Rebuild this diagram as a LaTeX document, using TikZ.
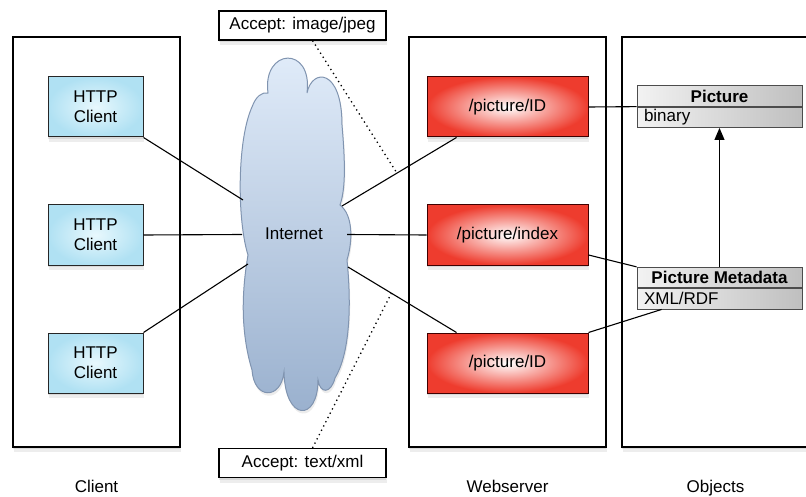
\documentclass[tikz,border=0pt]{standalone}
\usepackage{fontspec}
\setmainfont{Liberation Sans}
\usetikzlibrary{positioning,shadows,arrows.meta}

\definecolor{clientblue}{RGB}{176,225,243}
\definecolor{clientlight}{RGB}{232,248,253}
\definecolor{resred}{RGB}{238,60,46}
\definecolor{cloudtop}{RGB}{226,237,250}
\definecolor{cloudbot}{RGB}{152,175,205}
\definecolor{cloudline}{RGB}{128,148,176}

\begin{document}
\begin{tikzpicture}[x=1pt, y=-1pt, node distance=67pt,
   font=\fontsize{17}{20}\selectfont,
   softshadow/.style={drop shadow={shadow xshift=0pt, shadow yshift=-2pt, opacity=0.18},
      drop shadow={shadow xshift=1pt, shadow yshift=-5pt, opacity=0.14}},
   tier/.style={draw, line width=1.2pt, fill=white, softshadow},
   client/.style={draw=black!85, line width=1pt, inner color=clientlight, outer color=clientblue, minimum width=95pt, minimum height=60pt, align=center, softshadow},
   resource/.style={draw=black!75!red, line width=1pt, inner color=white, outer color=resred, minimum width=161pt, minimum height=60pt, softshadow},
   classhead/.style={draw=black!70, line width=0.8pt, left color=gray!10, right color=gray!50, minimum width=165pt, minimum height=20.5pt, inner sep=0pt, font=\fontsize{17}{20}\selectfont\bfseries},
   classattr/.style={draw=black!70, line width=0.8pt, left color=gray!10, right color=gray!50, text width=151pt, inner xsep=7pt, inner ysep=0pt, minimum height=20.5pt, align=left},
   callout/.style={draw, line width=1.1pt, fill=white, minimum width=167pt, minimum height=29pt, softshadow},
   label/.style={anchor=base},
   link/.style={line width=1.1pt},
   note/.style={line width=1.3pt, dash pattern=on 1.3pt off 3.5pt}
]
\useasboundingbox (0,0) rectangle (806,497);

% Tiers
\node [tier, minimum width=167pt, minimum height=410pt] (clienttier) at (96.5,242) {};
\node [tier, minimum width=197pt, minimum height=410pt] (webtier) at (507.5,242) {};
\node [tier, minimum width=187pt, minimum height=410pt] (objtier) at (715.5,242) {};

% Cloud
\shade [top color=cloudtop, bottom color=cloudbot, draw=cloudline, line width=1pt,
   drop shadow={shadow xshift=1pt, shadow yshift=-3pt, opacity=0.15}]
   (268,93) .. controls (262,48) and (313,45) .. (307,93)
   .. controls (312,68) and (342,68) .. (342,125)
   .. controls (345,160) and (346,188) .. (340,205)
   .. controls (353,215) and (353,240) .. (347,260)
   .. controls (352,310) and (349,355) .. (335,378)
   .. controls (331,394) and (320,394) .. (318,380)
   .. controls (318,422) and (285,422) .. (284,372)
   .. controls (281,400) and (254,400) .. (252,370)
   .. controls (240,330) and (242,290) .. (248,255)
   .. controls (237,220) and (237,140) .. (252,107)
   .. controls (256,96) and (262,92) .. (268,93) -- cycle;
\node (inet) at (294,234) {Internet};
\coordinate (cla) at (243,200);
\coordinate (clb) at (242,234.5);
\coordinate (clc) at (248,264);
\coordinate (cra) at (342,206);
\coordinate (crb) at (347,234.5);
\coordinate (crc) at (348,267);

% Nodes
\node [client] (http1) at (95.5,107) {HTTP\\Client};
\node [client, below=of http1] (http2) {HTTP\\Client};
\node [client, below=of http2] (http3) {HTTP\\Client};

\node [resource] (res1) at (507.5,107) {/picture/ID};
\node [resource, below=of res1] (res2) {/picture/index};
\node [resource, below=of res2] (res3) {/picture/ID};

\node [classhead] (pic) at (719.5,96) {Picture};
\node [classattr, below=0pt of pic] (picattr) {binary};
\node [classhead] (meta) at (719.5,277.5) {Picture Metadata};
\node [classattr, below=0pt of meta] (metaattr) {XML/RDF};

\node [callout] (accjpeg) at (302.5,25.5) {Accept: image/jpeg};
\node [callout] (accxml) at (302.5,463) {Accept: text/xml};

\node [label] (clientlabel) at (96.5,492) {Client};
\node [label] (weblabel) at (507.5,492) {Webserver};
\node [label] (objlabel) at (715.5,492) {Objects};

% Arrows
\draw[link] (http1.south east) -- (cla);
\draw[link] (http2.east) -- (clb);
\draw[link] (http3.north east) -- (clc);
\draw[link] (cra) -- coordinate[pos=0.48] (noteA) ([xshift=30pt]res1.south west);
\draw[link] (crb) -- (res2.west);
\draw[link] (crc) -- coordinate[pos=0.40] (noteB) ([xshift=30pt]res3.north west);
\draw[link] (res1.east) -- (pic.south west);
\draw[link] ([yshift=-20pt]res2.east) -- (meta.north west);
\draw[link] (res3.north east) -- ([xshift=25pt]metaattr.south west);
\draw[link, -{Triangle[length=12pt, width=10pt]}] (meta.north) -- (picattr.south);
\draw[note] ([xshift=10pt]accjpeg.south) -- (noteA);
\draw[note] ([xshift=10pt]accxml.north) -- (noteB);
\end{tikzpicture}
\end{document}
